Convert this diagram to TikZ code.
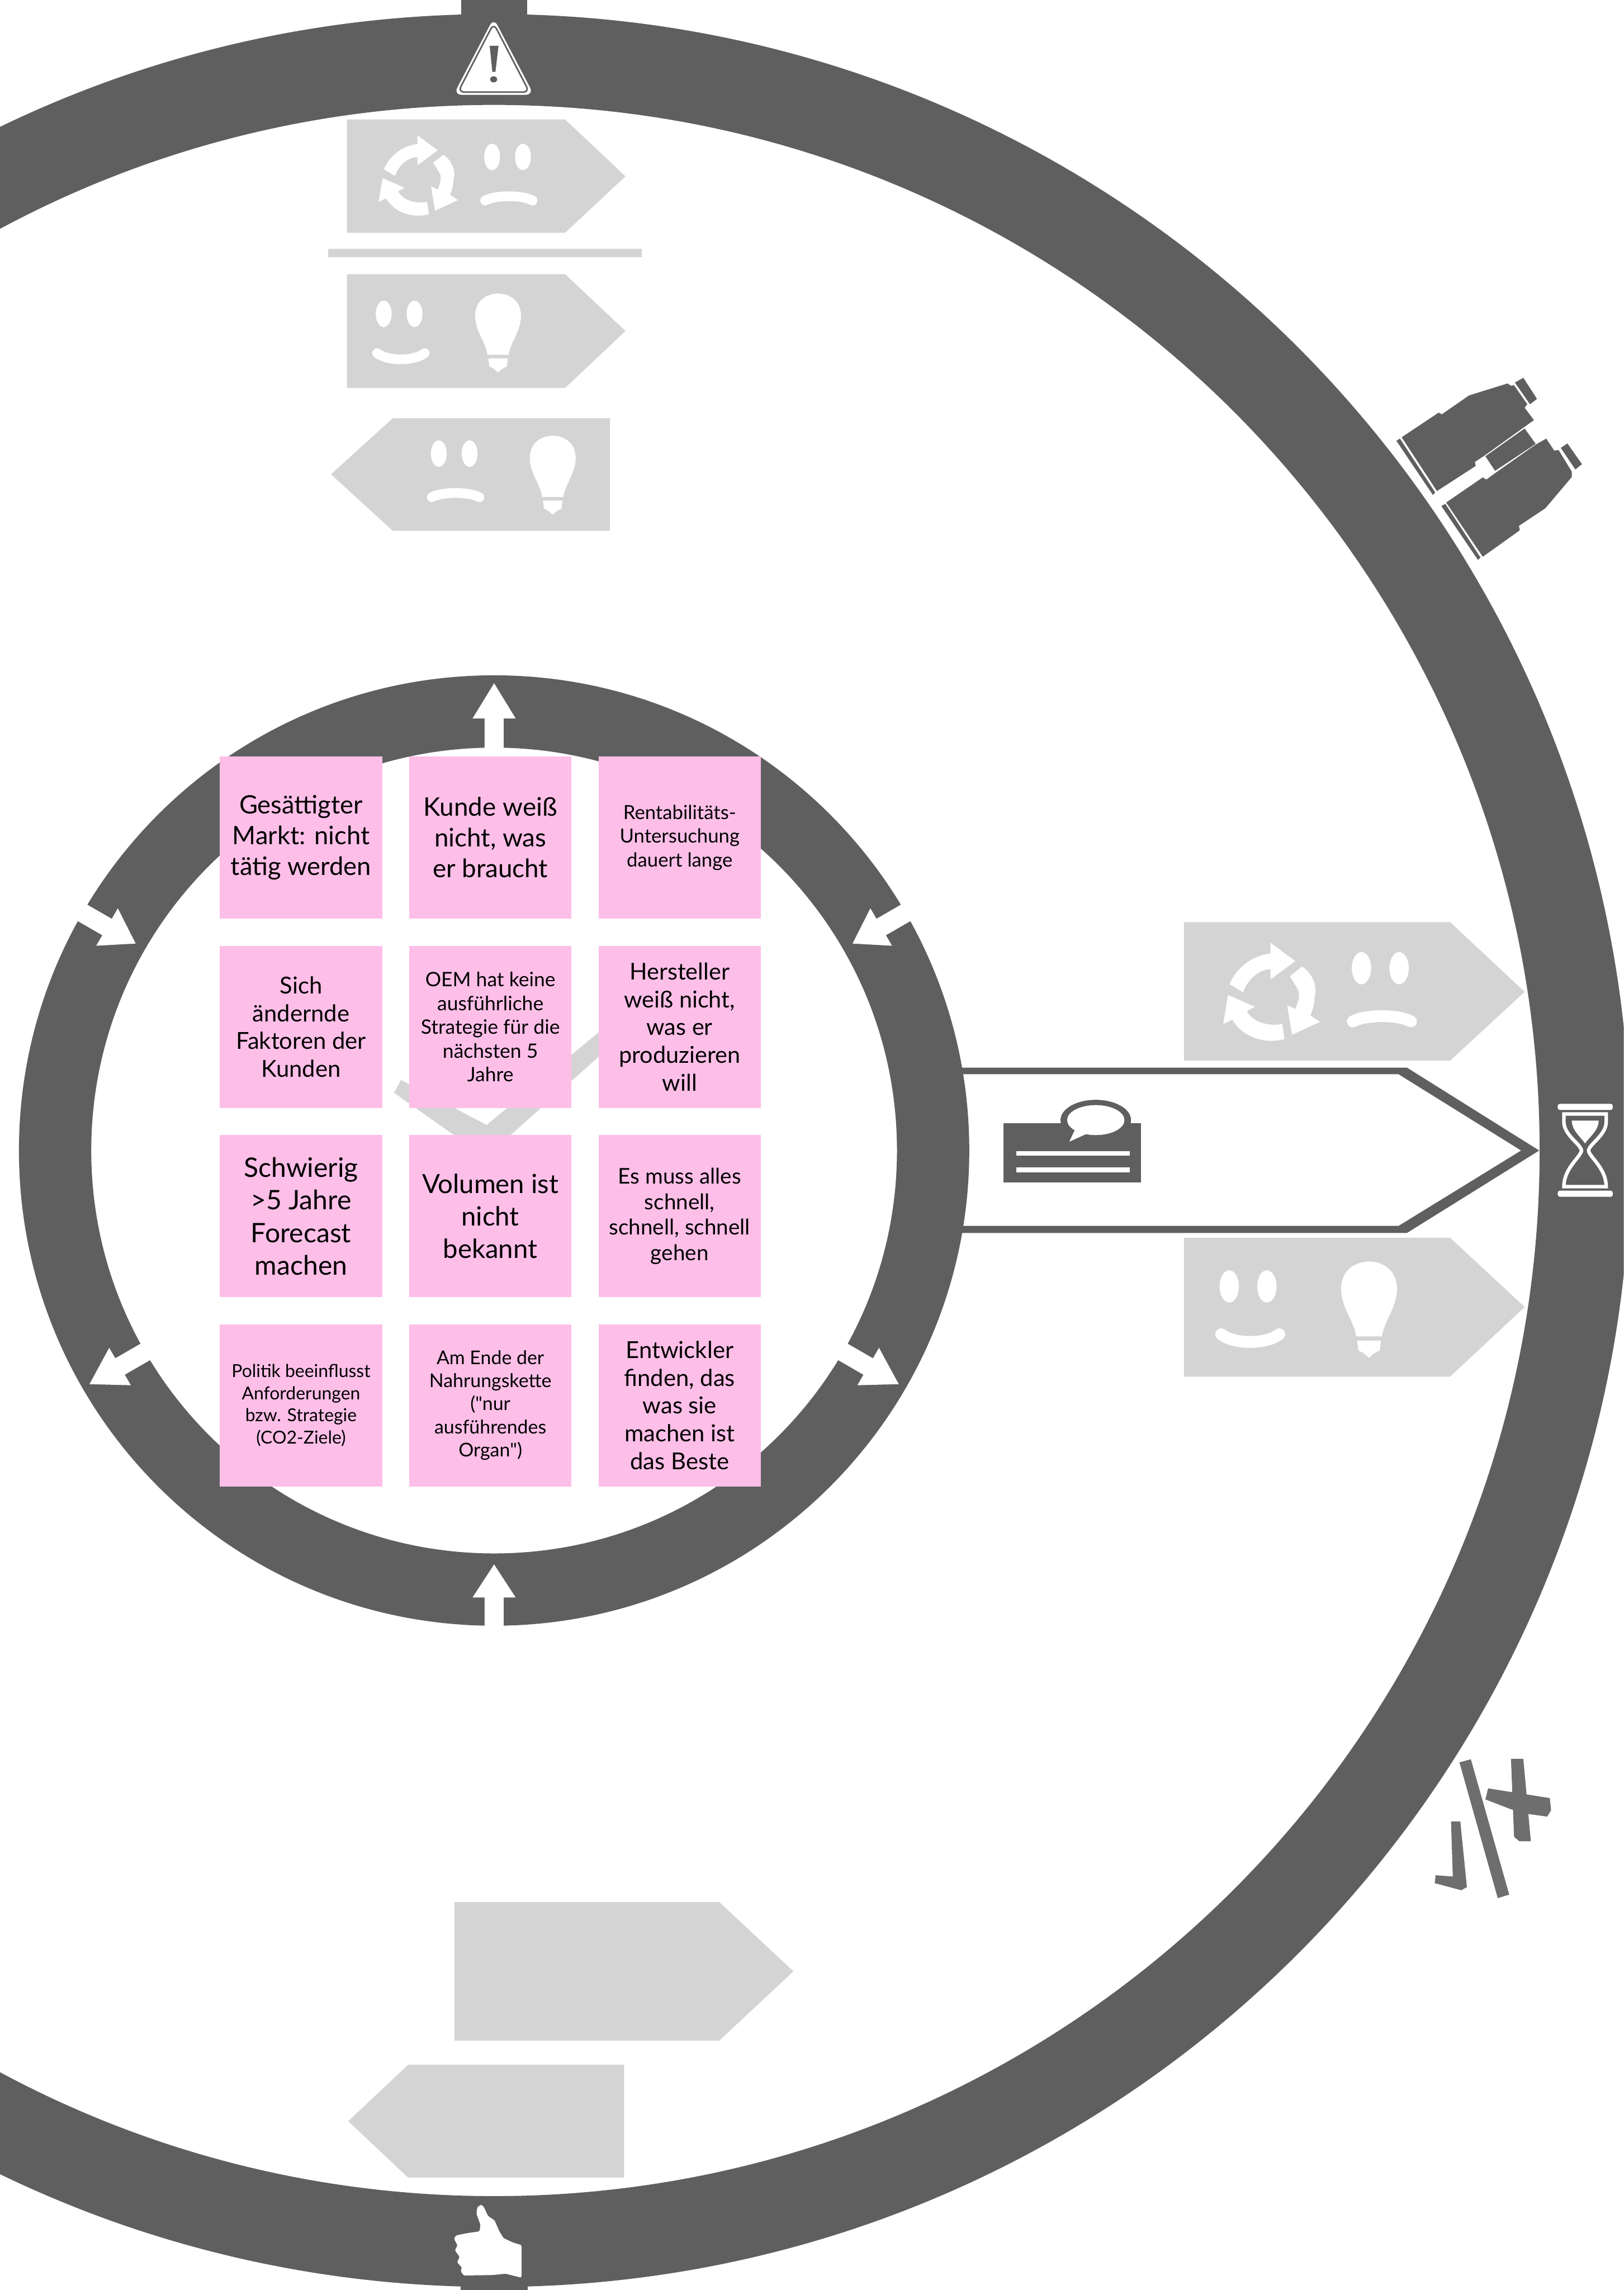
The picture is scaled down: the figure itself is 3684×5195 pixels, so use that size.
\documentclass[tikz,border=0pt]{standalone}
\usepackage{fontspec}
\setmainfont{Lato}
\newfontfamily\quotefont{Lato}
\definecolor{ringdark}{HTML}{5F5F5F}
\definecolor{palegrey}{HTML}{D4D4D4}
\definecolor{notepink}{HTML}{FDBFE8}
\definecolor{markgrey}{HTML}{6E6E6E}
\tikzset{
  note/.style 2 args={fill=notepink,minimum width=36.8pt,minimum height=36.8pt,inner sep=0pt,align=center,text=black,font=\fontsize{#1}{#2}\selectfont},
  pale/.style={fill=palegrey},
  dark/.style={fill=ringdark},
  hole/.style={fill=white}
}
\newcommand\mouth[4]{\draw[white,line width=#4*2.2pt,line cap=round] (#1-54,#2) .. controls (#1-30,#3) and (#1+30,#3) .. (#1+54,#2);}
\newcommand\sadface[3]{\begin{scope}[shift={(#1,#2)},scale=#3]
  \fill[hole] (-35,-44) ellipse [x radius=18,y radius=30];
  \fill[hole] (35,-44) ellipse [x radius=18,y radius=30];
  \mouth{3}{55}{42}{#3}
\end{scope}}
\newcommand\happyface[3]{\begin{scope}[shift={(#1,#2)},scale=#3]
  \fill[hole] (-35,-44) ellipse [x radius=18,y radius=30];
  \fill[hole] (35,-44) ellipse [x radius=18,y radius=30];
  \mouth{4}{45}{64}{#3}
\end{scope}}
\newcommand\bulbicon[3]{\begin{scope}[shift={(#1,#2)},scale=#3]
  \fill[hole] (-24,139) .. controls (-27,112) and (-52,85) .. (-52,51) .. controls (-52,15) and (-25,0) .. (0,0)
     .. controls (25,0) and (52,15) .. (52,51) .. controls (52,85) and (27,112) .. (24,139) -- cycle;
  \fill[hole] (-22,147) -- (22,147) -- (20,165) -- (9,171) -- (0,179) -- (-9,171) -- (-20,165) -- cycle;
\end{scope}}
\newcommand\recycleicon[3]{\begin{scope}[shift={(#1,#2)},scale=#3]
  \fill[hole] (-74,-15) .. controls (-60,-50) and (-25,-70) .. (2,-72) -- (2,-92) -- (48,-58) -- (2,-24) -- (2,-43) .. controls (-20,-42) and (-40,-25) .. (-49,0) -- cycle;
  \fill[hole] (38,-30) -- (61,-48) .. controls (80,-35) and (90,-10) .. (84,8) .. controls (84,20) and (80,35) .. (76,43) -- (94,55) -- (42,79) -- (33,24) -- (48,31) .. controls (53,20) and (58,5) .. (53,-5) -- cycle;
  \fill[hole] (24,59) -- (28,87) .. controls (0,95) and (-45,90) .. (-69,51) -- (-86,59) -- (-77,5) -- (-27,27) -- (-42,35) .. controls (-35,50) and (-10,65) .. (24,59) -- cycle;
\end{scope}}
\newcommand\ringarrow[4]{\begin{scope}[shift={(1121,2610)},rotate=#1]
  \fill[hole] (#2,-21.5) -- (#3,-21.5) -- (#3,-49) -- (#4,0) -- (#3,49) -- (#3,21.5) -- (#2,21.5) -- cycle;
\end{scope}}
\begin{document}
\begin{tikzpicture}[x=0.1pt,y=-0.1pt]
\useasboundingbox (0,0) rectangle (3684,5195);
\fill[white] (0,0) rectangle (3684,5195);
\begin{scope}
\clip (0,0) rectangle (3684,5195);
% outer ring
\fill[dark,even odd rule] (1121,2610) circle [radius=2578] (1121,2610) circle [radius=2372];
\fill[dark] (1046,0) rectangle (1196,40);
\fill[dark] (1045,5180) rectangle (1197,5195);
% big outlined pentagon
\fill[dark,even odd rule] (2170,2422) -- (3192,2422) -- (3492,2610) -- (3192,2797) -- (2170,2797) -- cycle
   (2170,2437) -- (3173,2437) -- (3451,2610) -- (3173,2781) -- (2170,2781) -- cycle;
% inner ring
\fill[dark,even odd rule] (1121,2610) circle [radius=1078] (1121,2610) circle [radius=914];
\ringarrow{90}{905}{980}{1060}
\ringarrow{210}{905}{980}{1060}
\ringarrow{330}{905}{980}{1060}
\ringarrow{30}{1090}{1014}{939}
\ringarrow{150}{1090}{1014}{939}
\ringarrow{270}{1090}{1014}{939}
% pale signposts top
\fill[pale] (787,271) -- (1282,271) -- (1419,400) -- (1282,528) -- (787,528) -- cycle;
\fill[pale] (744,564) rectangle (1456,584);
\fill[pale] (787,622) -- (1282,622) -- (1419,751) -- (1282,880) -- (787,880) -- cycle;
\fill[pale] (1384,949) -- (891,949) -- (751,1076) -- (891,1204) -- (1384,1204) -- cycle;
\recycleicon{945}{399}{1}
\sadface{1151.5}{400}{1}
\happyface{905.5}{756}{1}
\bulbicon{1130}{666}{1}
\sadface{1030.5}{1073}{1}
\bulbicon{1254}{988.5}{1}
% pale signposts right
\fill[pale] (2686,2092) -- (3290,2092) -- (3459,2250) -- (3290,2406) -- (2686,2406) -- cycle;
\fill[pale] (2686,2808) -- (3290,2808) -- (3459,2965) -- (3290,3123) -- (2686,3123) -- cycle;
\recycleicon{2880}{2251}{1.22}
\sadface{3131.5}{2250}{1.22}
\happyface{2831.5}{2972}{1.22}
\bulbicon{3106}{2862}{1.22}
% pale signposts bottom
\fill[pale] (1031,4315) -- (1632,4315) -- (1800,4472) -- (1632,4629) -- (1031,4629) -- cycle;
\fill[pale] (1416,4684) -- (926,4684) -- (790,4812) -- (926,4940) -- (1416,4940) -- cycle;
% pale check behind the notes
\fill[pale] (910,2450) -- (1104,2552) -- (1358,2342) -- (1400,2310) -- (1400,2360) -- (1130,2600) -- (1030,2575) -- (894,2479) -- cycle;
% speech note icon
\fill[dark] (2277,2548) rectangle (2588,2683);
\fill[dark] (2486,2541) ellipse [x radius=80,y radius=46];
\fill[hole] (2486,2541) ellipse [x radius=65,y radius=34];
\fill[hole] (2440,2560) -- (2426,2590) -- (2470,2570) -- cycle;
\fill[hole] (2306,2611) rectangle (2563,2622);
\fill[hole] (2306,2648) rectangle (2563,2659);
% warning triangle
\fill[hole,rounded corners=1.8pt] (1120,41) -- (1211,215) -- (1029,215) -- cycle;
\draw[ringdark,line width=0.35pt,rounded corners=1.4pt] (1120,53) -- (1201,209) -- (1039,209) -- cycle;
\fill[dark] (1111,104) -- (1131,104) -- (1124,163) -- (1117,163) -- cycle;
\fill[dark] (1120,180) ellipse [x radius=8,y radius=7];
% hourglass
\fill[hole,rounded corners=0.5pt] (3534,2504) rectangle (3659,2518);
\fill[hole,rounded corners=0.5pt] (3534,2701) rectangle (3659,2715);
\draw[white,line width=0.8pt] (3548,2527) -- (3644,2527) -- (3644,2545) .. controls (3644,2575) and (3606,2595) .. (3604,2610) .. controls (3606,2625) and (3644,2650) .. (3644,2692) -- (3548,2692) .. controls (3548,2650) and (3586,2625) .. (3588,2610) .. controls (3586,2595) and (3548,2575) .. (3548,2545) -- cycle;
\fill[hole] (3566,2542) -- (3627,2542) .. controls (3627,2565) and (3605,2580) .. (3596,2594) .. controls (3587,2580) and (3566,2565) .. (3566,2542) -- cycle;
% thumb
\fill[hole,rounded corners=0.3pt] (1183,5093) -- (1163,5087) -- (1142,5077) -- (1132,5060) -- (1122,5037) -- (1107,5027) -- (1098,5007) -- (1092,5001) -- (1083,5007) -- (1081,5022) -- (1090,5047) -- (1088,5062) -- (1060,5066) -- (1035,5071) -- (1030,5078) -- (1038,5094) -- (1032,5105) -- (1043,5120) -- (1037,5132) -- (1048,5144) -- (1045,5152) -- (1052,5162) -- (1117,5161) -- (1147,5158) -- (1183,5167) -- cycle;
% binoculars
\fill[dark] (3180,992) -- (3264,936) -- (3271,940) -- (3333,897) -- (3420,870) -- (3428,875) -- (3435,874) -- (3465,917) -- (3459,925) -- (3480,953) -- (3370,1032) -- (3346,1048) -- (3348,1057) -- (3260,1114) -- cycle;
\fill[dark] (3437,868) -- (3456,857) -- (3487,905) -- (3471,917) -- cycle;
\fill[dark] (3168,1000) -- (3176,995) -- (3256,1117) -- (3251,1123) -- cycle;
\fill[dark] (3459,972) -- (3484,1007) -- (3392,1068) -- (3370,1035) -- cycle;
\fill[dark] (3281,1140) -- (3364,1083) -- (3372,1088) -- (3394,1072) -- (3485,1008) -- (3508,995) -- (3526,1022) -- (3536,1021) -- (3566,1070) -- (3566,1082) -- (3506,1153) -- (3446,1193) -- (3448,1203) -- (3364,1263) -- cycle;
\fill[dark] (3541,1016) -- (3556,1006) -- (3589,1053) -- (3574,1065) -- cycle;
\fill[dark] (3270,1148) -- (3279,1143) -- (3359,1265) -- (3353,1270) -- cycle;
% tick / slash / cross
\fill[markgrey] (3311,3998) -- (3337,3991) -- (3424,4298) -- (3398,4306) -- cycle;
\fill[markgrey] (3428,3990) -- (3456,3990) -- (3473,4177) -- (3447,4177) -- (3435,4167) -- cycle;
\fill[markgrey] (3376,4057) -- (3516,4079) -- (3519,4107) -- (3510,4121) -- (3467,4115) -- (3427,4104) -- (3370,4082) -- cycle;
\fill[markgrey] (3292,4132) -- (3313,4132) -- (3328,4281) -- (3315,4288) -- (3255,4272) -- (3257,4254) -- (3296,4257) -- cycle;
\end{scope}
% notes
\node[note={5.75}{7.0}] (n11) at (683,1900) {Gesättigter\\Markt: nicht\\tätig werden};
\node[note={5.8}{7.0}] (n12) at (1112.5,1900) {Kunde weiß\\nicht, was\\er braucht};
\node[note={4.4}{5.4}] (n13) at (1542,1900) {Rentabilitäts-\\Untersuchung\\dauert lange};
\node[note={5.3}{6.3}] (n21) at (683,2329.5) {Sich\\ändernde\\Faktoren der\\Kunden};
\node[note={4.5}{5.4}] (n22) at (1112.5,2329.5) {OEM hat keine\\ausführliche\\Strategie für die\\nächsten 5\\Jahre};
\node[note={5.25}{6.3}] (n23) at (1542,2329.5) {Hersteller\\weiß nicht,\\was er\\produzieren\\will};
\node[note={6.1}{7.4}] (n31) at (683,2759) {Schwierig\\>5 Jahre\\Forecast\\machen};
\node[note={6.0}{7.4}] (n32) at (1112.5,2759) {Volumen ist\\nicht\\bekannt};
\node[note={4.9}{5.8}] (n33) at (1542,2759) {Es muss alles\\schnell,\\schnell, schnell\\gehen};
\node[note={4.05}{5.0}] (n41) at (683,3188) {Politik beeinflusst\\Anforderungen\\bzw. Strategie\\(CO2-Ziele)};
\node[note={4.3}{5.25}] (n42) at (1112.5,3188) {Am Ende der\\Nahrungskette\\({\quotefont"}nur\\ausführendes\\Organ{\quotefont"})};
\node[note={5.3}{6.3}] (n43) at (1542,3188) {Entwickler\\finden, das\\was sie\\machen ist\\das Beste};
\end{tikzpicture}
\end{document}
